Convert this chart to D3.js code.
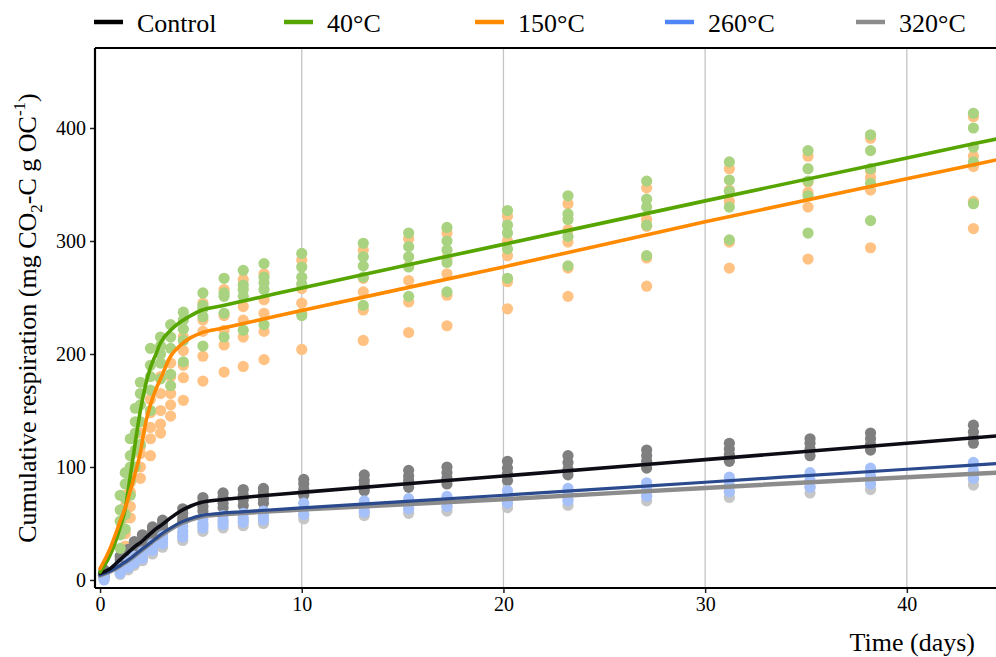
<!DOCTYPE html>
<html><head><meta charset="utf-8">
<script src="https://cdn.jsdelivr.net/npm/d3@7"></script>
<style>body{margin:0;background:#fff}svg{display:block}text{font-family:"Liberation Serif","Times New Roman",serif;fill:#000}</style>
</head><body><svg id="c" width="996" height="657"></svg>
<script>
// ---------- data ----------
const seriesNames = ["Control", "40°C", "150°C", "260°C", "320°C"];
const lineColors = ["#0c0c14", "#56a500", "#ff8a00", "#2b4a8e", "#8c8c8c"];
const legendColors = ["#000000", "#56a500", "#ff8a00", "#4f86f7", "#8c8c8c"];
const pointColors = ["#7f7f7f", "#a9d281", "#ffc283", "#a6c1f9", "#c6c6c6"];

const xTicks = [0, 10, 20, 30, 40];
const yTicks = [0, 100, 200, 300, 400];

// observation days
const ctrlDays = [0.2, 1.0, 1.4, 1.7, 2.1, 2.6, 3.1, 4.1, 5.1, 6.1, 7.1, 8.1, 10.1, 13.1, 15.3, 17.2, 20.2, 23.2, 27.1, 31.2, 35.2, 38.2, 43.3];
const greenDays = [1.0, 1.25, 1.5, 1.75, 2.0, 2.5, 3.0, 3.5, 4.13, 5.1, 6.15, 7.1, 8.13, 10.0, 13.05, 15.3, 17.2, 20.2, 23.2, 27.1, 31.2, 35.1, 38.2, 43.3];
const orangeDays = [1.25, 1.5, 2.0, 2.5, 3.0, 3.5, 4.13, 5.1, 6.15, 7.1, 8.13, 10.0, 13.05, 15.3, 17.2, 20.2, 23.2, 27.1, 31.2, 35.1, 38.2, 43.3];

// replicate observations (mg CO2-C g OC-1)
const controlObs = [[3,5,7,9],[12,15,18,21],[17,20,24,27],[22,26,30,34],[28,32,36,40],[36,40,44,47],[42,46,50,53],[52,55,59,63],[61,65,69,73],[64,68,73,77],[66,71,75,80],[68,72,77,81],[75,80,85,89],[79,84,88,93],[82,88,92,97],[85,90,95,100],[88,94,99,105],[93,98,104,110],[99,105,110,115],[105,111,116,121],[110,116,121,125],[115,120,125,130],[121,126,131,137]];
const t40Obs = [[28,40,52,62,75],[45,58,72,85,95],[75,88,100,110,125],[100,115,130,140,152],[120,140,155,165,175],[150,168,180,190,205],[178,192,200,207,215],[172,182,205,215,226],[193,212,222,230,237],[207,233,240,243,254],[215,236,251,254,267],[221,251,257,261,274],[226,257,263,268,280],[234,262,268,277,289],[243,268,278,286,298],[251,277,286,295,307],[255,281,292,300,312],[267,293,307,314,327],[278,304,319,324,340],[287,314,330,337,353],[301,330,344,354,370],[307,340,353,364,380],[318,351,364,380,394],[333,370,383,400,413]];
const t150Obs = [[30,41,55,65,75],[55,65,78,86,96],[90,100,112,118,130],[110,125,135,148,160],[130,138,150,165,180],[145,155,165,180,192],[159,179,190,203,215],[176,198,220,230,245],[184,208,221,234,257],[189,215,230,242,266],[195,220,236,248,271],[204,236,245,258,283],[212,239,255,267,292],[219,246,265,278,302],[225,252,271,285,307],[240,264,287,300,322],[251,276,299,310,333],[260,285,313,319,347],[276,299,335,345,364],[284,330,343,352,375],[294,345,356,362,391],[311,335,366,375,410]];
const t260Obs = [[0,2,4],[6,9,11],[11,14,17],[15,18,21],[19,22,25],[26,29,32],[32,36,39],[38,43,47],[46,50,54],[49,53,57],[51,55,59],[53,57,61],[58,63,68],[60,65,70],[63,67,72],[65,69,74],[68,73,79],[70,75,81],[74,80,86],[78,84,91],[82,88,95],[85,92,99],[90,97,104]];
const t320Obs = [[1,3],[5,8],[9,12],[13,16],[17,20],[23,27],[29,33],[35,40],[43,48],[46,51],[48,53],[50,55],[54,58],[57,61],[59,63],[61,65],[64,68],[66,71],[70,75],[73,78],[77,82],[80,85],[84,89]];

// fitted curves
const fitDays = [0, 0.5, 1, 1.25, 1.5, 1.75, 2, 2.25, 2.5, 2.75, 3, 3.5, 4, 4.5, 5, 6, 7, 8, 10, 20, 30, 40, 44.5];
const fitControl = [6, 10, 18, 22, 26, 30, 33, 37, 41, 45, 48, 55, 61, 65.5, 68.5, 71, 72.8, 74.5, 77.5, 92, 106.5, 121, 127.5];
const fit40 = [7, 22, 47, 63, 92, 122, 150, 172, 188, 199, 210, 221, 228.5, 234, 238.5, 242.5, 246.5, 250.5, 258.5, 297, 335.5, 373.5, 390.5];
const fit150 = [10, 28, 52, 64, 79, 95, 113, 138, 155, 168, 178, 198, 208, 214.5, 218.5, 222.5, 226.5, 230.5, 238.5, 277, 317, 355, 372];
const fit260 = [4.5, 8, 13, 16, 19, 22.5, 26, 29.5, 33, 36.5, 40, 46, 51, 54.5, 57, 59, 60.3, 61.5, 63.8, 75, 86.5, 98, 103];
const fit320 = [4, 7.5, 12.5, 15.5, 18.5, 22, 25.5, 29, 32.5, 36, 39, 45, 50, 53.5, 56, 58, 59.2, 60.3, 62.3, 71.5, 81.5, 91, 95];

// ---------- chart ----------
const svg = d3.select("#c");
const L = 95, R = 996, T = 48, B = 588;
const x = d3.scaleLinear().domain([-0.25, 44.42]).range([L, R]);
const y = d3.scaleLinear().domain([-7.1, 470.8]).range([B, T]);

svg.append("defs").append("clipPath").attr("id", "clip")
  .append("rect").attr("x", L).attr("y", T).attr("width", R - L).attr("height", B - T);

// grid
svg.append("g").selectAll("line").data(xTicks.filter(d => d > 0)).join("line")
  .attr("x1", d => x(d)).attr("x2", d => x(d)).attr("y1", T).attr("y2", B)
  .attr("stroke", "#c4c4c4").attr("stroke-width", 1.3);

const obs = [
  {s: 4, days: ctrlDays, vals: t320Obs},
  {s: 2, days: orangeDays, vals: t150Obs},
  {s: 0, days: ctrlDays, vals: controlObs},
  {s: 3, days: ctrlDays, vals: t260Obs},
  {s: 1, days: greenDays, vals: t40Obs}
];
const plot = svg.append("g").attr("clip-path", "url(#clip)");
obs.forEach(o => {
  const pts = [];
  o.days.forEach((d, i) => o.vals[i].forEach(v => pts.push([d, v])));
  plot.append("g").selectAll("circle").data(pts).join("circle")
    .attr("cx", d => x(d[0])).attr("cy", d => y(d[1])).attr("r", 5.6)
    .attr("fill", pointColors[o.s]);
});

const fits = [
  {s: 4, v: fit320, w: 4.5},
  {s: 3, v: fit260, w: 3.2},
  {s: 0, v: fitControl, w: 3.6},
  {s: 1, v: fit40, w: 3.6},
  {s: 2, v: fit150, w: 3.6}
];
const line = d3.line().curve(d3.curveMonotoneX);
fits.forEach(f => {
  plot.append("path")
    .attr("d", line(fitDays.map((d, i) => [x(d), y(f.v[i])])))
    .attr("fill", "none").attr("stroke", lineColors[f.s]).attr("stroke-width", f.w)
    .attr("stroke-linecap", "round");
});

// axes
const xAxis = svg.append("g").attr("transform", `translate(0,${B})`)
  .call(d3.axisBottom(x).tickValues(xTicks).tickSize(5).tickPadding(4).tickFormat(d3.format("d")));
const yAxis = svg.append("g").attr("transform", `translate(${L},0)`)
  .call(d3.axisLeft(y).tickValues(yTicks).tickSize(5).tickPadding(4).tickFormat(d3.format("d")));
[xAxis, yAxis].forEach(a => {
  a.select(".domain").remove();
  a.selectAll(".tick line").attr("stroke", "#222").attr("stroke-width", 1.5);
  a.selectAll(".tick text").attr("font-size", 20).attr("fill", "#111")
    .style("font-family", '"Liberation Serif",serif');
});
svg.append("line").attr("x1", L).attr("x2", R).attr("y1", B).attr("y2", B).attr("stroke", "#000").attr("stroke-width", 2.2);
svg.append("line").attr("x1", L).attr("x2", L).attr("y1", T).attr("y2", B).attr("stroke", "#000").attr("stroke-width", 2.2);
svg.append("line").attr("x1", L).attr("x2", R).attr("y1", T).attr("y2", T).attr("stroke", "#000").attr("stroke-width", 2.2);

// axis titles
svg.append("text").attr("x", 975).attr("y", 651).attr("text-anchor", "end").attr("font-size", 26).text("Time (days)");
const yt = svg.append("text").attr("transform", "translate(36,318) rotate(-90)").attr("text-anchor", "middle").attr("font-size", 26);
yt.append("tspan").text("Cumulative respiration (mg CO");
yt.append("tspan").attr("font-size", 17).attr("dy", 6).text("2");
yt.append("tspan").attr("dy", -6).text("-C g OC");
yt.append("tspan").attr("font-size", 17).attr("dy", -11).text("-1");
yt.append("tspan").attr("dy", 11).text(")");

// legend
const legX = [94, 284, 475, 665, 856];
const lg = svg.append("g").selectAll("g").data(seriesNames).join("g")
  .attr("transform", (d, i) => `translate(${legX[i]},22)`);
lg.append("line").attr("x1", 0).attr("x2", 29).attr("stroke", (d, i) => legendColors[i]).attr("stroke-width", 4.5);
lg.append("text").attr("x", 43).attr("y", 9.5).attr("font-size", 26).text(d => d);
</script></body></html>
